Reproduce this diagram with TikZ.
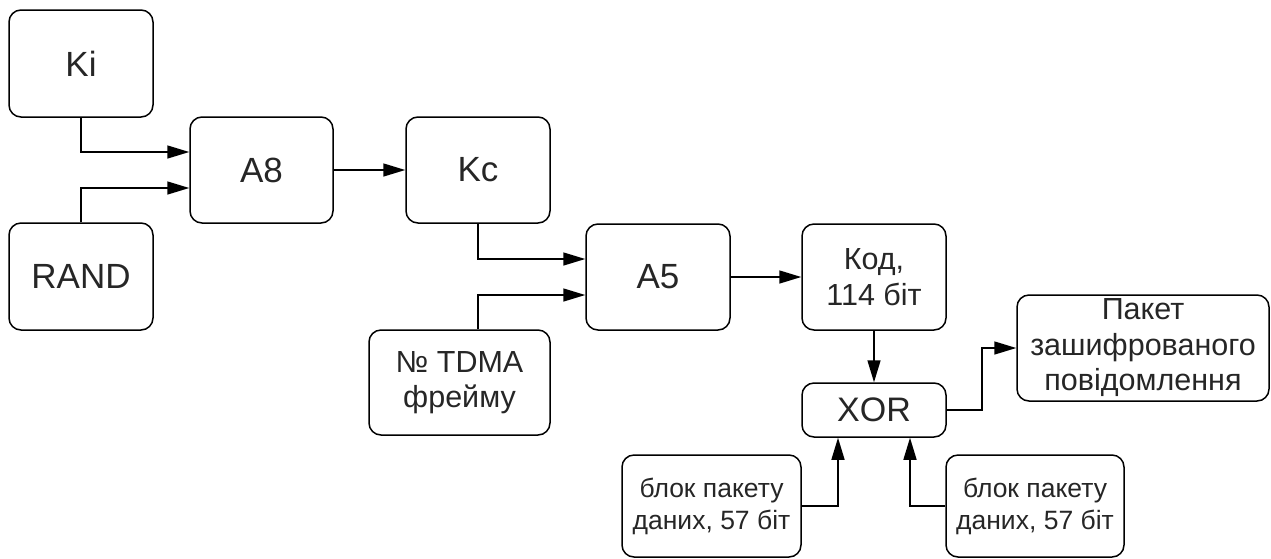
\documentclass[tikz,border=0pt]{standalone}
\usepackage{fontspec}
\setmainfont{Liberation Sans}
\usetikzlibrary{arrows.meta,calc}
\tikzstyle{scheme} = [x = 1pt, y = -1pt]
\tikzstyle{blockStyle} = [draw=black, line width=1.5pt, rounded corners=12pt, inner sep=0pt, align=center, text=black!85]
\tikzstyle{arrowStyle} = [draw=black, line width=1.5pt, -{Triangle[length=22pt, width=13pt]}]
\tikzstyle{bigText} = [font=\fontsize{35}{40}\selectfont]
\tikzstyle{xorText} = [font=\fontsize{34}{38}\selectfont]
\tikzstyle{midText} = [font=\fontsize{30.5}{35.5}\selectfont]
\tikzstyle{smallText} = [font=\fontsize{26.5}{32}\selectfont]
\newcommand{\block}[7]{\node [blockStyle, #6, minimum width=#4pt, minimum height=#5pt] (#1) at (#2,#3) {#7};}
\newcommand{\shift}{18}
\newcommand{\xorShift}{36}

\begin{document}
\begin{tikzpicture}[scheme]
        \useasboundingbox (0,0) rectangle (1271,558);

        % keys and algorithms
        \block{ki}{81}{63.5}{144}{107}{bigText}{Ki}
        \block{rand}{81}{276.5}{144}{107}{bigText}{RAND}
        \block{aEight}{261.5}{170}{143}{106}{bigText}{A8}
        \block{kc}{478}{170}{144}{106}{bigText}{Kc}
        \block{aFive}{658}{277}{144}{106}{bigText}{A5}
        \block{tdma}{459.5}{382.5}{181}{105}{midText}{№ TDMA\\фрейму}
        \block{kod}{874}{277}{144}{106}{midText}{Код,\\114 біт}
        \block{xor}{874}{410}{144}{54}{xorText}{XOR}
        \block{paket}{1143}{348}{252}{106}{midText}{Пакет\\зашифрованого\\повідомлення}
        \block{dataOne}{711.5}{506}{179}{102}{smallText}{блок пакету\\даних, 57 біт}
        \block{dataTwo}{1035}{506}{178}{102}{smallText}{блок пакету\\даних, 57 біт}

        % connections
        \draw [arrowStyle] (ki.south) |- ($(aEight.west)+(0,-\shift)$);
        \draw [arrowStyle] (rand.north) |- ($(aEight.west)+(0,\shift)$);
        \draw [arrowStyle] (aEight) -- (kc);
        \draw [arrowStyle] (kc.south) |- ($(aFive.west)+(0,-\shift)$);
        \draw [arrowStyle] (kc.south |- tdma.north) |- ($(aFive.west)+(0,\shift)$);
        \draw [arrowStyle] (aFive) -- (kod);
        \draw [arrowStyle] (kod) -- (xor);
        \draw [arrowStyle] (xor.east) -- ++(35,0) |- (paket.west);
        \draw [arrowStyle] (dataOne.east) -| ($(xor.south)+(-\xorShift,0)$);
        \draw [arrowStyle] (dataTwo.west) -| ($(xor.south)+(\xorShift,0)$);
      \end{tikzpicture}
\end{document}
